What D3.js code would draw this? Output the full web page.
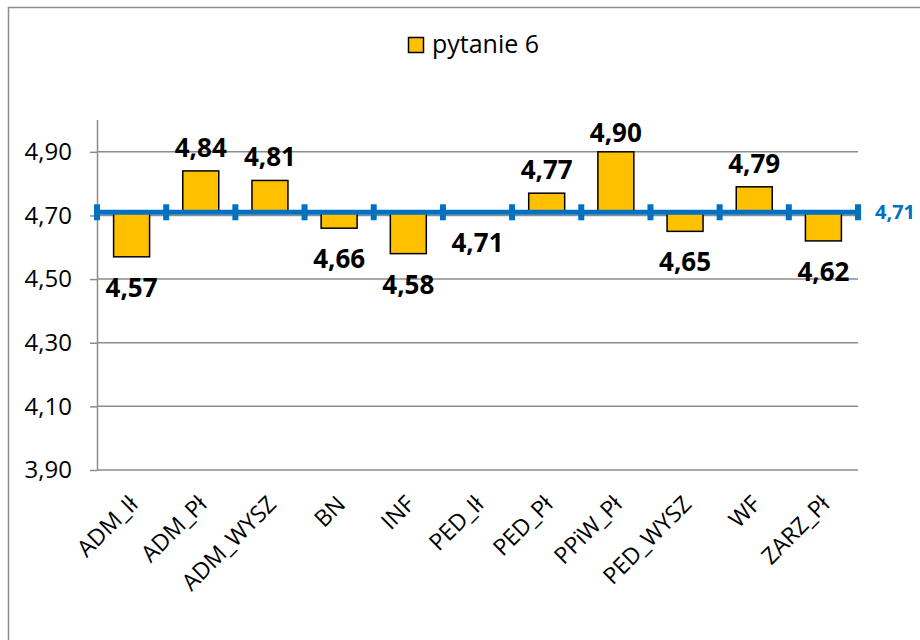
<!DOCTYPE html>
<html>
<head>
<meta charset="utf-8">
<script src="https://cdn.jsdelivr.net/npm/d3@7"></script>
<style>
  html, body { margin: 0; padding: 0; background: #fff; }
  svg { display: block; font-family: "Open Sans", "Noto Sans", sans-serif; }
</style>
</head>
<body>
<svg id="chart" width="920" height="640"></svg>
<script>
// ---- data ----
const categories = ["ADM_Ił", "ADM_Pł", "ADM_WYSZ", "BN", "INF", "PED_Ił", "PED_Pł", "PPiW_Pł", "PED_WYSZ", "WF", "ZARZ_Pł"];
const values = [4.57, 4.84, 4.81, 4.66, 4.58, 4.71, 4.77, 4.90, 4.65, 4.79, 4.62];
const seriesName = "pytanie 6";
const averageValue = 4.71;
const yTicks = [3.9, 4.1, 4.3, 4.5, 4.7, 4.9];
const yDomain = [3.9, 5.0];

// ---- layout ----
const svg = d3.select("#chart");
const plot = { left: 97, right: 858, top: 120, bottom: 470 };
const locale = d3.formatLocale({ decimal: ",", thousands: " ", grouping: [3], currency: ["", " zł"] });
const fmt = locale.format(".2f");

const x = d3.scaleBand().domain(categories).range([plot.left, plot.right]).paddingInner(0.48).paddingOuter(0.24);
const xb = d3.scaleLinear().domain([0, categories.length]).range([plot.left, plot.right]);
const y = d3.scaleLinear().domain(yDomain).range([plot.bottom, plot.top]);

// outer border
svg.append("rect").attr("x", 8.5).attr("y", 7.5).attr("width", 1000).attr("height", 1000)
  .attr("fill", "none").attr("stroke", "#8c8c8c").attr("stroke-width", 1.5);

// gridlines
svg.append("g").selectAll("line").data(yTicks).join("line")
  .attr("x1", plot.left).attr("x2", plot.right)
  .attr("y1", d => y(d)).attr("y2", d => y(d))
  .attr("stroke", "#8c8c8c").attr("stroke-width", 1.5);

// y axis
const yAxis = svg.append("g").attr("transform", `translate(${plot.left},0)`)
  .call(d3.axisLeft(y).tickValues(yTicks).tickSize(7).tickPadding(18).tickFormat(fmt));
yAxis.select(".domain").attr("stroke", "#8c8c8c").attr("stroke-width", 1.5)
  .attr("d", `M0.5,${plot.top}V${plot.bottom}`);
yAxis.selectAll(".tick line").attr("stroke", "#8c8c8c").attr("stroke-width", 1.5);
yAxis.selectAll(".tick text").attr("font-size", 24).attr("fill", "#000")
  .attr("font-family", "'Open Sans', sans-serif");

// x axis labels
const xAxis = svg.append("g").attr("transform", `translate(0,${plot.bottom})`)
  .call(d3.axisBottom(x).tickSize(0).tickPadding(0));
xAxis.select(".domain").remove();
xAxis.selectAll(".tick text")
  .attr("font-size", 23).attr("fill", "#000").attr("font-family", "'Open Sans', sans-serif")
  .attr("text-anchor", "end")
  .attr("dy", "0.35em")
  .attr("transform", "translate(2,30) rotate(-45)")
  .attr("y", 0).attr("x", 0);

// bars (from average line)
svg.append("g").selectAll("rect").data(values).join("rect")
  .attr("x", (d, i) => x(categories[i]))
  .attr("width", x.bandwidth())
  .attr("y", d => Math.min(y(d), y(averageValue)))
  .attr("height", d => Math.abs(y(d) - y(averageValue)))
  .attr("fill", "#FFC000").attr("stroke", "#000").attr("stroke-width", 1.5);

// average line
const avgY = y(averageValue);
svg.append("line").attr("x1", xb(0)).attr("x2", xb(categories.length))
  .attr("y1", avgY).attr("y2", avgY)
  .attr("stroke", "#0070C0").attr("stroke-width", 5);
svg.append("g").selectAll("rect").data(d3.range(categories.length + 1)).join("rect")
  .attr("x", d => xb(d) - 3).attr("y", avgY - 8).attr("width", 6).attr("height", 16)
  .attr("fill", "#0070C0");
svg.append("text").attr("x", xb(categories.length) + 17).attr("y", avgY + 7)
  .attr("font-size", 20).attr("font-weight", "bold").attr("fill", "#0070C0")
  .text(fmt(averageValue));

// data labels
svg.append("g").selectAll("text").data(values).join("text")
  .attr("x", (d, i) => x(categories[i]) + x.bandwidth() / 2)
  .attr("y", d => d > averageValue ? Math.max(y(d) - 14, plot.top + 22) : y(d) + 40)
  .attr("text-anchor", "middle").attr("font-size", 26).attr("font-weight", "bold").attr("fill", "#000")
  .text(d => fmt(d));

// legend
const lg = svg.append("g");
lg.append("rect").attr("x", 408.5).attr("y", 37.5).attr("width", 15).attr("height", 15)
  .attr("fill", "#FFC000").attr("stroke", "#000").attr("stroke-width", 1.5);
lg.append("text").attr("x", 432).attr("y", 53).attr("font-size", 25).attr("fill", "#000")
  .text(seriesName);
</script>
</body>
</html>
